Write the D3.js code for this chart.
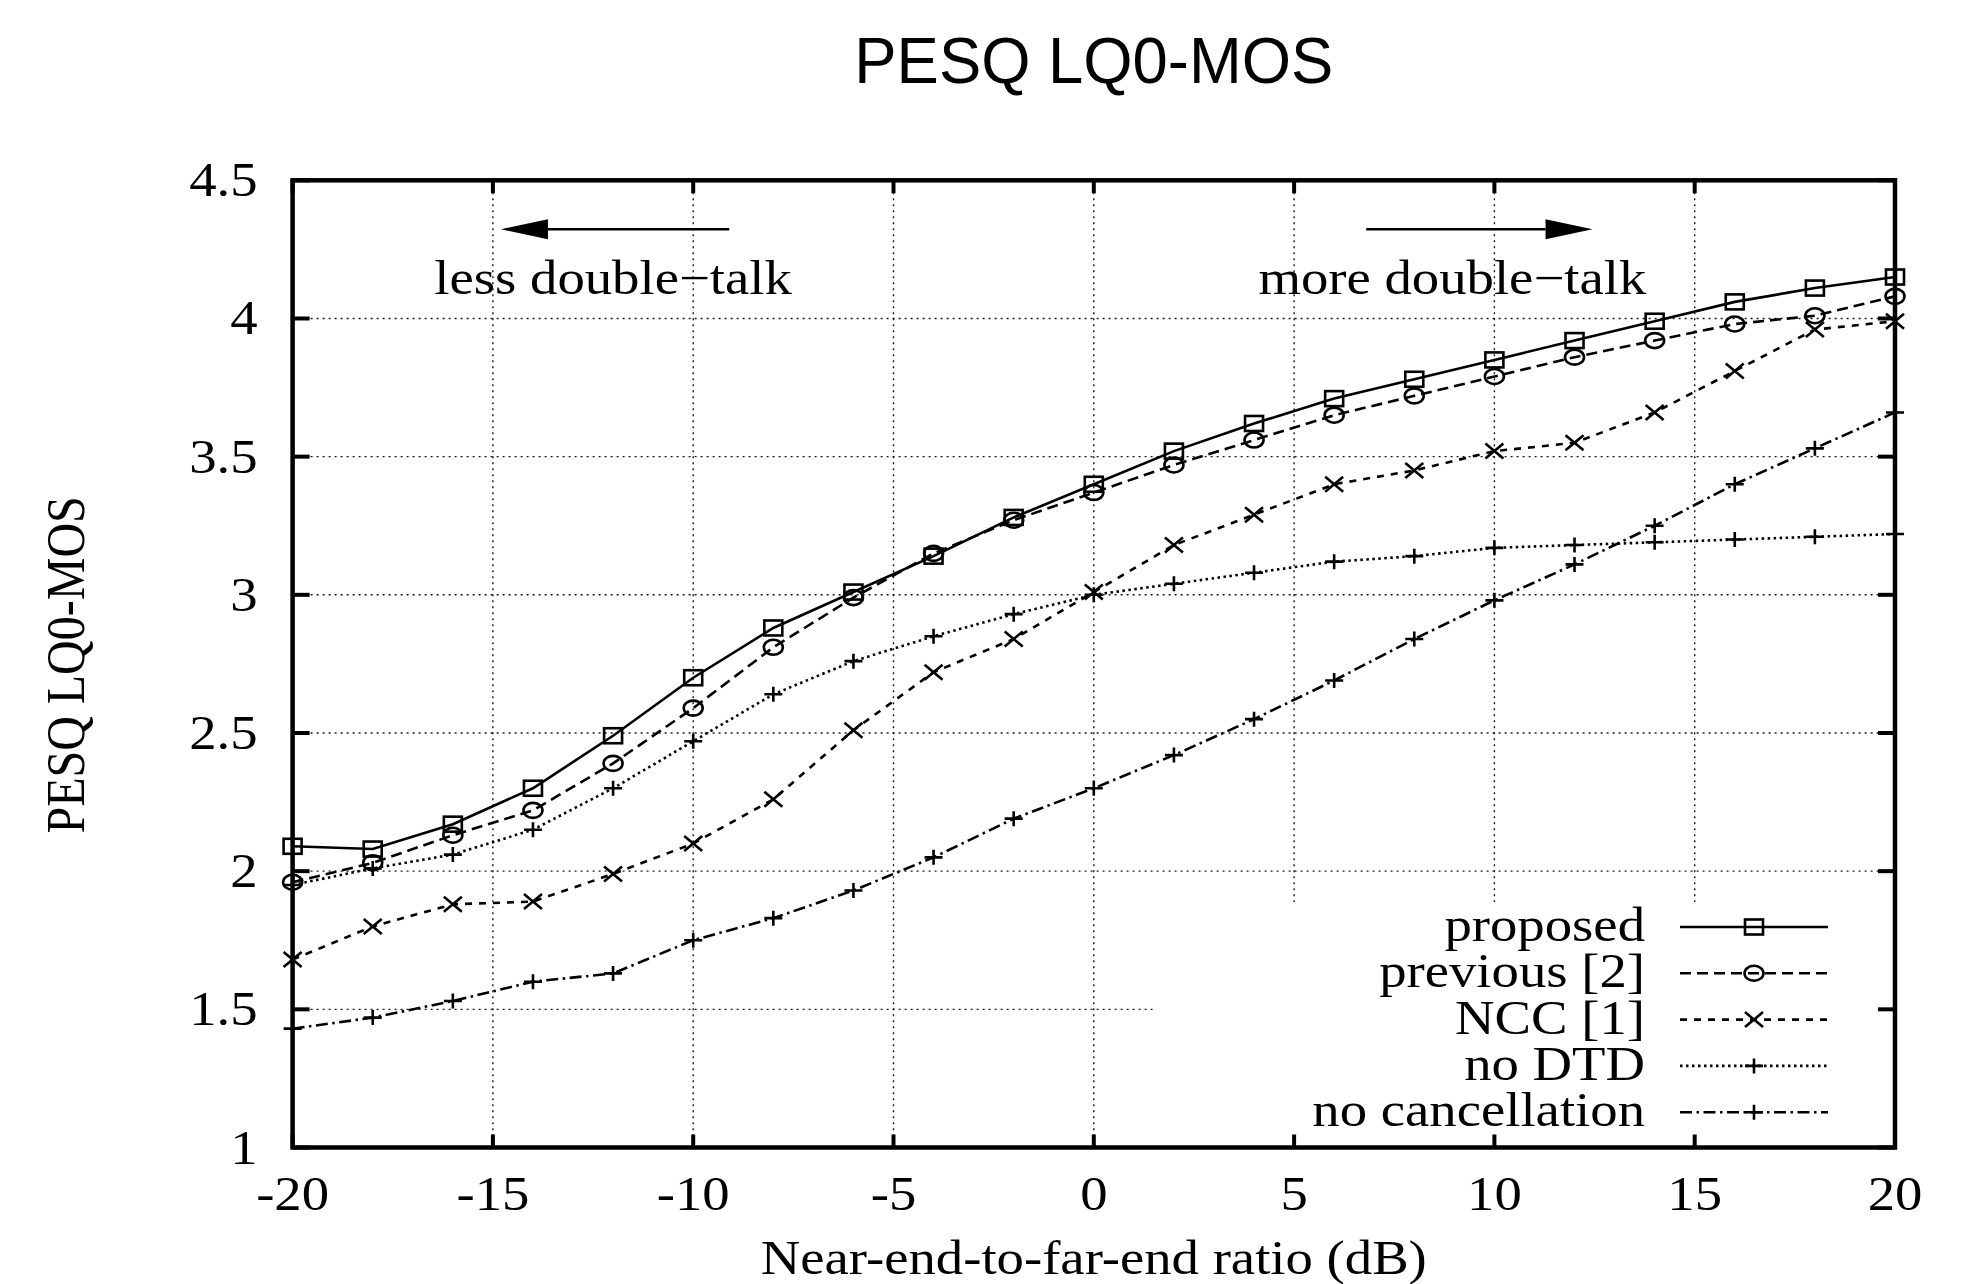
<!DOCTYPE html>
<html>
<head>
<meta charset="utf-8">
<script src="https://cdn.jsdelivr.net/npm/d3@7"></script>
<style>
  body { margin: 0; background: #fff; }
</style>
</head>
<body>
<div id="chart"></div>
<script>

// near-end-to-far-end ratio (dB)
var snr = [-20, -18, -16, -14, -12, -10, -8, -6, -4, -2, 0, 2, 4, 6, 8, 10, 12, 14, 16, 18, 20];

var proposed = [2.09, 2.08, 2.17, 2.30, 2.49, 2.70, 2.88, 3.01, 3.14, 3.28, 3.40, 3.52, 3.62, 3.71, 3.78, 3.85, 3.92, 3.99, 4.06, 4.11, 4.15];
var previous = [1.96, 2.03, 2.13, 2.22, 2.39, 2.59, 2.81, 2.99, 3.15, 3.27, 3.37, 3.47, 3.56, 3.65, 3.72, 3.79, 3.86, 3.92, 3.98, 4.01, 4.08];
var ncc      = [1.68, 1.80, 1.88, 1.89, 1.99, 2.10, 2.26, 2.51, 2.72, 2.84, 3.01, 3.18, 3.29, 3.40, 3.45, 3.52, 3.55, 3.66, 3.81, 3.96, 3.99];
var noDtd    = [1.95, 2.01, 2.06, 2.15, 2.30, 2.47, 2.64, 2.76, 2.85, 2.93, 3.00, 3.04, 3.08, 3.12, 3.14, 3.17, 3.18, 3.19, 3.20, 3.21, 3.22];
var noCancel = [1.43, 1.47, 1.53, 1.60, 1.63, 1.75, 1.83, 1.93, 2.05, 2.19, 2.30, 2.42, 2.55, 2.69, 2.84, 2.98, 3.11, 3.25, 3.40, 3.53, 3.66];

var seriesNames = ["proposed", "previous [2]", "NCC [1]", "no DTD", "no cancellation"];

var xTicks = [-20, -15, -10, -5, 0, 5, 10, 15, 20];
var yTicks = [1, 1.5, 2, 2.5, 3, 3.5, 4, 4.5];
var yTickLabels = ["1", "1.5", "2", "2.5", "3", "3.5", "4", "4.5"];

var titleText = "PESQ LQ0-MOS";
var xLabel = "Near-end-to-far-end ratio (dB)";
var yLabel = "PESQ LQ0-MOS";

// annotations (data units)
var notes = [
    { text: "less double\u2212talk", x: -12, y: 4.09, from: -9.1, to: -14.8, ay: 4.323 },
    { text: "more double\u2212talk", x: 8.95, y: 4.09, from: 6.8, to: 12.45, ay: 4.323 }
];

function init(){

    var W = 1977;
    var H = 1284;
    var left = 292.6, right = 1895, top = 180.3, bottom = 1147.5;
    var serif = "'Liberation Serif', 'Times New Roman', serif";
    var sx = 1.14; // the picture is a bit wider than tall

    var x = d3.scaleLinear().domain([-20, 20]).range([left, right]);
    var y = d3.scaleLinear().domain([1, 4.5]).range([bottom, top]);

    var svg = d3.select("#chart")
                .append("svg")
                .attr("width", W)
                .attr("height", H)
                .style("background", "#fff");

    function label(g, tx, ty, txt, anchor, size, scale, family){
        return g.append("text")
            .attr("transform", "translate(" + tx + "," + ty + ") scale(" + scale + ",1)")
            .attr("text-anchor", anchor)
            .style("font-family", family || serif)
            .style("font-size", size + "px")
            .attr("fill", "#000")
            .text(txt);
    }

    // title
    label(svg, (left + right) / 2, 83, titleText, "middle", 65, 0.975, "'Liberation Sans', Arial, sans-serif");

    // grid
    var grid = svg.append("g")
                .attr("stroke", "#1a1a1a")
                .attr("stroke-width", 1.4)
                .attr("stroke-dasharray", "2,4");

    grid.selectAll("line.gx")
        .data(xTicks.slice(1, -1))
        .enter()
        .append("line")
        .attr("x1", function(d){ return x(d); })
        .attr("x2", function(d){ return x(d); })
        .attr("y1", top)
        .attr("y2", bottom);

    grid.selectAll("line.gy")
        .data(yTicks.slice(1, -1))
        .enter()
        .append("line")
        .attr("x1", left)
        .attr("x2", right)
        .attr("y1", function(d){ return y(d); })
        .attr("y2", function(d){ return y(d); });

    // key area hides the grid behind it
    svg.append("rect")
        .attr("x", 1153)
        .attr("y", 902)
        .attr("width", right - 1153)
        .attr("height", bottom - 902)
        .attr("fill", "#fff");

    // tick labels
    xTicks.forEach(function(d){
        label(svg, x(d), 1210, String(d), "middle", 48, sx);
    });
    yTicks.forEach(function(d, i){
        label(svg, left - 35, y(d) + 16, yTickLabels[i], "end", 48, sx);
    });

    // axis titles
    label(svg, (left + right) / 2, 1274, xLabel, "middle", 48, sx);
    svg.append("text")
        .attr("transform", "translate(84," + ((top + bottom) / 2 + 1) + ") rotate(-90) scale(1,1.14)")
        .attr("text-anchor", "middle")
        .style("font-family", serif)
        .style("font-size", "48px")
        .text(yLabel);

    // annotations with arrows
    notes.forEach(function(n){
        label(svg, x(n.x), y(n.y), n.text, "middle", 48, sx);
        var dir = n.to > n.from ? 1 : -1;
        var tip = x(n.to), base = tip - dir * 47, ay = y(n.ay);
        svg.append("line")
            .attr("x1", x(n.from)).attr("x2", base)
            .attr("y1", ay).attr("y2", ay)
            .attr("stroke", "#000").attr("stroke-width", 2.5);
        svg.append("path")
            .attr("d", "M" + tip + "," + ay + "L" + base + "," + (ay - 10) + "L" + base + "," + (ay + 10) + "Z")
            .attr("fill", "#000");
    });

    // series
    var allSeries = [proposed, previous, ncc, noDtd, noCancel];
    var dashes = [null, "11,6", "7,7", "2.5,3.5", "12,4.5,2.5,4.5"];
    var symbols = ["square", "circle", "cross", "plus", "plus"];

    var line = d3.line()
                .x(function(d, i){ return x(snr[i]); })
                .y(function(d){ return y(d); });

    function symbol(g, kind, cx, cy){
        var w = 9, h = 7.5;
        if (kind == "square") {
            g.append("rect")
                .attr("x", cx - w).attr("y", cy - h)
                .attr("width", 2 * w).attr("height", 2 * h)
                .attr("fill", "none");
        } else if (kind == "circle") {
            g.append("ellipse")
                .attr("cx", cx).attr("cy", cy)
                .attr("rx", w + 0.5).attr("ry", h)
                .attr("fill", "none");
        } else if (kind == "cross") {
            g.append("path")
                .attr("d", "M" + (cx - w) + "," + (cy - h) + "L" + (cx + w) + "," + (cy + h) +
                           "M" + (cx - w) + "," + (cy + h) + "L" + (cx + w) + "," + (cy - h));
        } else {
            g.append("path")
                .attr("d", "M" + (cx - w) + "," + cy + "L" + (cx + w) + "," + cy +
                           "M" + cx + "," + (cy - h) + "L" + cx + "," + (cy + h));
        }
    }

    allSeries.forEach(function(vals, s){
        var g = svg.append("g")
                .attr("stroke", "#000")
                .attr("stroke-width", 2.6)
                .attr("fill", "none");

        g.append("path")
            .datum(vals)
            .attr("d", line)
            .attr("stroke-dasharray", dashes[s]);

        vals.forEach(function(v, i){
            symbol(g, symbols[s], x(snr[i]), y(v));
        });

        // key entry
        var ky = 927 + s * 46.3;
        label(svg, 1645, ky + 14, seriesNames[s], "end", 48, sx);
        g.append("line")
            .attr("x1", 1680).attr("x2", 1828)
            .attr("y1", ky).attr("y2", ky)
            .attr("stroke-dasharray", dashes[s]);
        symbol(g, symbols[s], 1754, ky);
    });

    // ticks, mirrored on all sides
    var ticks = svg.append("g")
                .attr("stroke", "#000")
                .attr("stroke-width", 4);

    xTicks.forEach(function(d){
        ticks.append("line").attr("x1", x(d)).attr("x2", x(d)).attr("y1", bottom).attr("y2", bottom - 13);
        ticks.append("line").attr("x1", x(d)).attr("x2", x(d)).attr("y1", top).attr("y2", top + 13);
    });
    yTicks.forEach(function(d){
        ticks.append("line").attr("x1", left).attr("x2", left + 17).attr("y1", y(d)).attr("y2", y(d));
        ticks.append("line").attr("x1", right).attr("x2", right - 17).attr("y1", y(d)).attr("y2", y(d));
    });

    // border
    svg.append("rect")
        .attr("x", left)
        .attr("y", top)
        .attr("width", right - left)
        .attr("height", bottom - top)
        .attr("fill", "none")
        .attr("stroke", "#000")
        .attr("stroke-width", 4.5);
}

window.onload = init;
</script>
</body>
</html>
